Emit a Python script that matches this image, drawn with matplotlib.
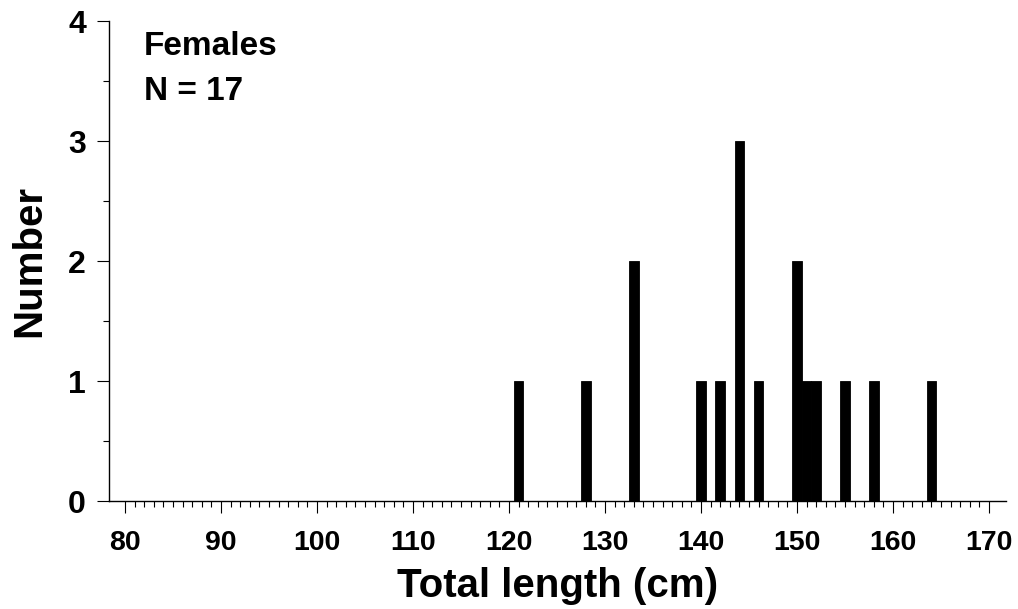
import matplotlib
matplotlib.use("Agg")
import matplotlib.pyplot as plt
from matplotlib.ticker import FixedLocator, MultipleLocator

# female total lengths (cm) and counts
lengths = [121, 128, 133, 140, 142, 144, 146, 150, 151, 152, 155, 158, 164]
counts = [1, 1, 2, 1, 1, 3, 1, 2, 1, 1, 1, 1, 1]
xticks = [80, 90, 100, 110, 120, 130, 140, 150, 160, 170]
yticks = [0, 1, 2, 3, 4]

plt.rcParams['font.family'] = ['Liberation Sans', 'DejaVu Sans']
plt.rcParams['font.weight'] = 'bold'

fig = plt.figure(figsize=(10.18, 6.09), dpi=100)
ax = fig.add_axes([0.1071, 0.1773, 0.8811, 0.7882])

ax.bar(lengths, counts, width=1.0, color='black', edgecolor='black', linewidth=0.6)

ax.set_xlim(78.33, 171.77)
ax.set_ylim(0, 4)
ax.set_xticks(xticks)
ax.set_yticks(yticks)
# minor ticks every 1 cm, only between 80 and 170
ax.xaxis.set_minor_locator(FixedLocator([v for v in range(80, 171) if v % 10]))
ax.yaxis.set_minor_locator(MultipleLocator(0.5))

ax.spines['top'].set_visible(False)
ax.spines['right'].set_visible(False)
ax.spines['left'].set_linewidth(1.0)
ax.spines['bottom'].set_linewidth(1.0)

ax.tick_params(axis='both', which='major', direction='out', length=8.6, width=0.8)
ax.tick_params(axis='both', which='minor', direction='out', length=4.3, width=0.8)
ax.tick_params(axis='x', which='major', labelsize=20.5, pad=12)
ax.tick_params(axis='y', which='major', labelsize=23, pad=8)
for lab in ax.get_xticklabels() + ax.get_yticklabels():
    lab.set_fontweight('bold')

ax.set_xlabel('Total length (cm)', fontsize=29, fontweight='bold', labelpad=8)
ax.set_ylabel('Number', fontsize=29, fontweight='bold', labelpad=14)

ax.text(0.039, 0.929, 'Females', transform=ax.transAxes, fontsize=24,
        fontweight='bold', va='baseline', ha='left')
ax.text(0.039, 0.835, 'N = 17', transform=ax.transAxes, fontsize=24,
        fontweight='bold', va='baseline', ha='left')

fig.savefig('out.png', dpi=100)
